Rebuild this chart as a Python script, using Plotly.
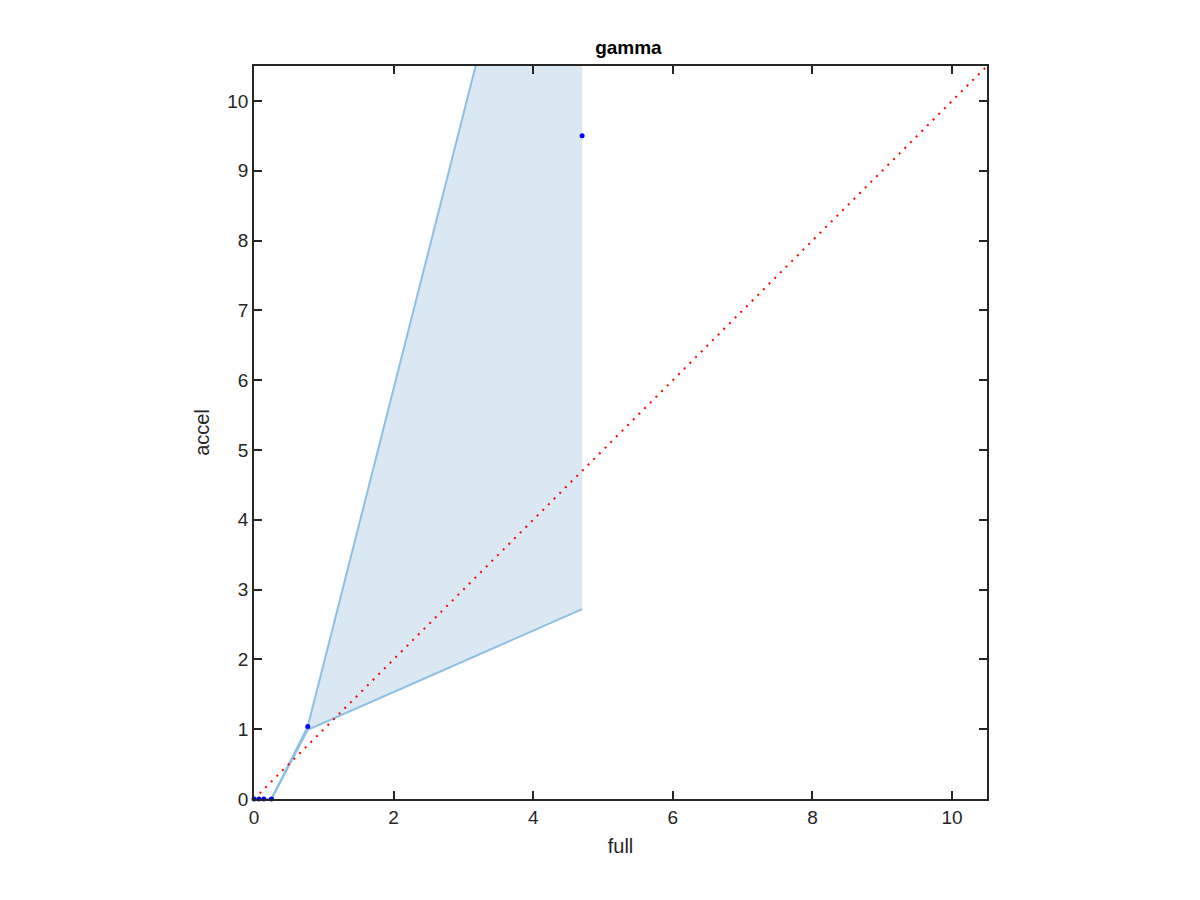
import plotly.graph_objects as go

# Data
x_full = [0.0, 0.07, 0.14, 0.25, 0.77, 4.7]
y_accel = [0.0, 0.0, 0.0, 0.0, 1.04, 9.5]
band_lower = [0.0, 0.0, 0.0, 0.0, 0.99, 2.72]
band_upper = [0.0, 0.0, 0.0, 0.0, 1.04, 16.5]
diag = [0.0, 10.5]
x_ticks = [0, 2, 4, 6, 8, 10]
y_ticks = [0, 1, 2, 3, 4, 5, 6, 7, 8, 9, 10]

FILL = "#DAE8F3"
EDGE = "#8DC0E3"
AX = "#262626"
FONT = "Liberation Sans, Arial, Helvetica, sans-serif"

fig = go.Figure()

# shaded band polygon (fill only)
poly_x = x_full + x_full[::-1]
poly_y = band_lower + band_upper[::-1]
fig.add_trace(go.Scatter(x=poly_x, y=poly_y, fill="toself", fillcolor=FILL,
                         mode="none", hoverinfo="skip", showlegend=False))
# band edges
fig.add_trace(go.Scatter(x=x_full, y=band_lower, mode="lines",
                         line=dict(color=EDGE, width=2), showlegend=False))
fig.add_trace(go.Scatter(x=x_full, y=band_upper, mode="lines",
                         line=dict(color=EDGE, width=2), showlegend=False))
# diagonal reference
fig.add_trace(go.Scatter(x=diag, y=diag, mode="lines",
                         line=dict(color="#FF0000", width=2, dash="2px,6px"),
                         showlegend=False))
# points
fig.add_trace(go.Scatter(x=x_full, y=y_accel, mode="markers",
                         marker=dict(color="#0000FF", size=5), showlegend=False,
                         cliponaxis=False))

axis_common = dict(range=[0, 10.5], showline=True, linecolor=AX, linewidth=1.5,
                   mirror="ticks", ticks="inside", ticklen=8, tickwidth=1.5,
                   tickcolor=AX, showgrid=False, zeroline=False,
                   tickfont=dict(family=FONT, size=19, color=AX))

fig.update_layout(
    width=1200, height=900,
    paper_bgcolor="white", plot_bgcolor="white",
    margin=dict(l=246, r=221, t=58, b=109),
    font=dict(family=FONT, color=AX),
    title=dict(text="<b>gamma</b>", x=0.517, xanchor="center", y=0.956, yanchor="middle",
               font=dict(family=FONT, size=19, color="#000000")),
    xaxis=dict(**axis_common, tickvals=x_ticks,
               title=dict(text="full", font=dict(family=FONT, size=20, color=AX), standoff=12)),
    yaxis=dict(**axis_common, tickvals=y_ticks,
               title=dict(text="accel", font=dict(family=FONT, size=20, color=AX), standoff=12)),
)

fig.write_html("out.html")
